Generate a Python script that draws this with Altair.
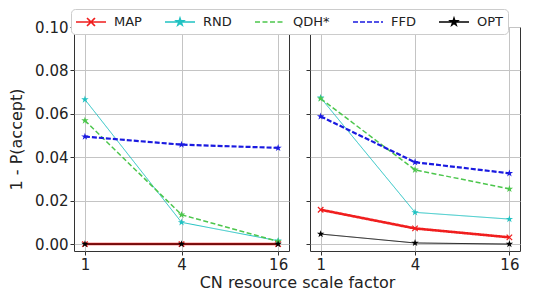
import altair as alt
import pandas as pd

# ---------------- data ----------------
x_vals = [1, 4, 16]
series = ["MAP", "RND", "QDH*", "FFD", "OPT"]

left_map = [0.0, 0.0, 0.0]
left_rnd = [0.0666, 0.0100, 0.0015]
left_qdh = [0.0569, 0.0135, 0.0012]
left_ffd = [0.0495, 0.0458, 0.0443]
left_opt = [0.0, 0.0, 0.0]

right_map = [0.0158, 0.0072, 0.0031]
right_rnd = [0.0674, 0.0146, 0.0115]
right_qdh = [0.0670, 0.0342, 0.0254]
right_ffd = [0.0588, 0.0377, 0.0326]
right_opt = [0.0046, 0.0005, 0.0]

y_ticks = [0.0, 0.02, 0.04, 0.06, 0.08, 0.10]

colors = ["#f01e1e", "#20c2c2", "#4cc64c", "#1a1ae0", "#000000"]
widths = [2.6, 1.0, 1.5, 2.2, 1.0]
dashes = [[1, 0], [1, 0], [5, 2.5], [5, 2], [1, 0]]

STAR_PTS = [(0, -1), (0.225, -0.309), (0.951, -0.309), (0.363, 0.118), (0.588, 0.809),
            (0, 0.382), (-0.588, 0.809), (-0.363, 0.118), (-0.951, -0.309), (-0.225, -0.309)]


def star_path(s, dx=0.0):
    return "M" + "L".join(f"{px*s+dx:.3f},{py*s:.3f}" for px, py in STAR_PTS) + "Z"


STAR = star_path(1.0)
XMARK = "M-1,-1L1,1M-1,1L1,-1"

# legend symbol paths (symbolSize 256 -> 1 unit = 8px), shifted right so the
# line starts at the entry's left edge
SH = 0.875
LINE = f"M{-1.875+SH:.3f},0H{1.875+SH:.3f}"
leg_shapes = [
    LINE + f"M{-0.5+SH},-0.5L{0.5+SH},0.5M{-0.5+SH},0.5L{0.5+SH},-0.5",
    LINE + star_path(0.45, SH),
    LINE,
    LINE,
    LINE + star_path(0.45, SH),
]

rows = []
for panel, vals in [("left", [left_map, left_rnd, left_qdh, left_ffd, left_opt]),
                    ("right", [right_map, right_rnd, right_qdh, right_ffd, right_opt])]:
    for s, v in zip(series, vals):
        for xv, yv in zip(x_vals, v):
            rows.append({"panel": panel, "series": s, "x": xv, "y": yv})
df = pd.DataFrame(rows)

FONT = "DejaVu Sans"

legend = alt.Legend(
    title=None, orient="none", legendX=-3, legendY=-18, direction="horizontal",
    columns=5, symbolSize=256, symbolStrokeWidth=1.6, labelFontSize=13, labelFont=FONT,
    labelColor="#222", fillColor="white", strokeColor="#cccccc", cornerRadius=4,
    padding=4, columnPadding=19, labelOffset=21, gridAlign="none",
)

color_enc = alt.Color("series:N", scale=alt.Scale(domain=series, range=colors), legend=legend)
dash_enc = alt.StrokeDash("series:N", scale=alt.Scale(domain=series, range=dashes), legend=legend)
shape_enc = alt.Shape("series:N", scale=alt.Scale(domain=series, range=leg_shapes), legend=legend)

x_scale = alt.Scale(type="log", base=2, domain=[0.855, 18.7], nice=False)
y_scale = alt.Scale(domain=[-0.0032, 0.10], nice=False, zero=False)

TOTAL_W = 215 + 21 + 210


def panel_chart(p, w, first):
    base = alt.Chart(df).transform_filter(alt.datum.panel == p)
    if first:
        xax = alt.Axis(values=x_vals, labelExpr="datum.value", title="CN resource scale factor",
                       titleX=TOTAL_W / 2, titleY=23, titleAlign="center", titleBaseline="top",
                       titleFontSize=16, titleFontWeight="normal")
        yax = alt.Axis(values=y_ticks, format=".2f", title="1 - P(accept)",
                       titleFontSize=16, titleFontWeight="normal", titlePadding=10)
    else:
        xax = alt.Axis(values=x_vals, labelExpr="datum.value", title=None)
        yax = alt.Axis(values=y_ticks, labels=False, title=None)
    x = alt.X("x:Q", scale=x_scale, axis=xax)
    y = alt.Y("y:Q", scale=y_scale, axis=yax)
    layers = []
    for s, lw in zip(series, widths):
        layers.append(
            base.transform_filter(alt.datum.series == s).mark_line(strokeWidth=lw).encode(
                x=x, y=y, color=color_enc, strokeDash=dash_enc, order=alt.Order("x:Q"))
        )
    stars = base.transform_filter(alt.datum.series != "MAP").mark_point(
        filled=True, shape=STAR, size=60, opacity=1).encode(x=x, y=y, color=color_enc)
    xs = base.transform_filter(alt.datum.series == "MAP").mark_point(
        filled=False, shape=XMARK, size=30, strokeWidth=1.2, opacity=1).encode(
        x=x, y=y, color=color_enc)
    dummy = base.transform_filter(alt.datum.series == "none").mark_point(
        filled=True, opacity=1).encode(x=x, y=y, color=color_enc, shape=shape_enc,
                                       strokeDash=dash_enc)
    return alt.layer(*layers[:4], xs, stars, layers[4], dummy).properties(width=w, height=224)


chart = alt.hconcat(
    panel_chart("left", 215, True),
    panel_chart("right", 210, False),
    spacing=21, bounds="flush",
).properties(
    padding=0
).configure_view(
    stroke="#333333", strokeWidth=1
).configure_axis(
    labelFont=FONT, titleFont=FONT, labelFontSize=15, labelColor="#222",
    titleColor="#222", domain=False, grid=True, gridColor="#c4c4c4", gridWidth=1,
    tickColor="#333", tickSize=4, labelPadding=2,
)

chart.save("out.html", embed_options={"renderer": "svg", "actions": False})
